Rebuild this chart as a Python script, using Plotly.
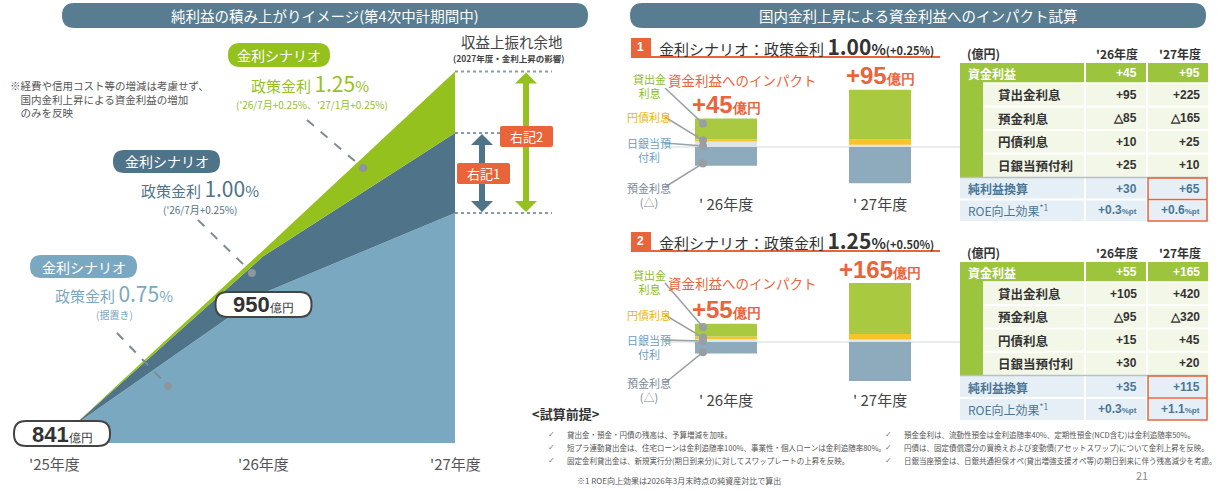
import plotly.graph_objects as go

W, H = 1225, 491
JP = "Noto Sans CJK JP"
NUM = "Liberation Sans"

# ---------------- data ----------------
years = ["'25年度", "'26年度", "'27年度"]
profit_075 = [841, 950, 1015]   # 政策金利0.75%（据置き）
profit_100 = [841, 980, 1080]   # 政策金利1.00%
profit_125 = [841, 985, 1130]   # 政策金利1.25%

bar_years = ["' 26年度", "' 27年度"]
s1_loan = [95, 225]
s1_dep = [-85, -165]
s1_jgb = [10, 25]
s1_boj = [25, 10]
s1_total = [45, 95]
s1_net = [30, 65]
s1_roe = [0.3, 0.6]

s2_loan = [105, 420]
s2_dep = [-95, -320]
s2_jgb = [15, 45]
s2_boj = [30, 20]
s2_total = [55, 165]
s2_net = [35, 115]
s2_roe = [0.3, 1.1]

row_names = ["貸出金利息", "預金利息", "円債利息", "日銀当預付利"]
table_years = ["'26年度", "'27年度"]

bullets_left = [
    "貸出金・預金・円債の残高は、予算増減を加味。",
    "短プラ連動貸出金は、住宅ローンは金利追随率100%、事業性・個人ローンは金利追随率80%。",
    "固定金利貸出金は、新規実行分(期日到来分)に対してスワップレートの上昇を反映。",
]
bullets_right = [
    "預金金利は、流動性預金は金利追随率40%、定期性預金(NCD含む)は金利追随率50%。",
    "円債は、固定債償還分の買換えおよび変動債(アセットスワップ)について金利上昇を反映。",
    "日銀当座預金は、日銀共通担保オペ(貸出増強支援オペ等)の期日到来に伴う残高減少を考慮。",
]

# ---------------- styles ----------------
C_GREEN = "#95c11f"
C_DARK = "#4f7389"
C_LIGHT = "#7ba8c1"
C_ORANGE = "#e9643b"
C_BANNER = "#587c90"
B_LOAN, B_JGB, B_BOJ, B_DEP = "#a8c940", "#f6c428", "#dfe4e8", "#8eaabd"
T_GREEN, T_BODY, T_NETBG = "#9cc53d", "#f3f7e7", "#e6eff5"

def X(x):
    return x / W

def Y(y):
    return 1 - y / H

def P(x, y):
    return f"{X(x):.5f},{Y(y):.5f}"

shapes, ann = [], []

def rrect(x0, y0, x1, y1, r, fill, lc=None, lw=0, layer="above"):
    path = (f"M{P(x0+r,y0)} L{P(x1-r,y0)} Q{P(x1,y0)} {P(x1,y0+r)} L{P(x1,y1-r)} "
            f"Q{P(x1,y1)} {P(x1-r,y1)} L{P(x0+r,y1)} Q{P(x0,y1)} {P(x0,y1-r)} "
            f"L{P(x0,y0+r)} Q{P(x0,y0)} {P(x0+r,y0)} Z")
    shapes.append(dict(type="path", path=path, xref="paper", yref="paper", fillcolor=fill,
                       line=dict(color=lc or fill, width=lw), layer=layer))

def rect(x0, y0, x1, y1, fill, lc=None, lw=0, layer="above"):
    shapes.append(dict(type="rect", xref="paper", yref="paper", x0=X(x0), x1=X(x1), y0=Y(y0), y1=Y(y1),
                       fillcolor=fill, line=dict(color=lc or fill, width=lw), layer=layer))

def line(x0, y0, x1, y1, color, w=1, dash="solid", layer="above"):
    shapes.append(dict(type="line", xref="paper", yref="paper", x0=X(x0), x1=X(x1), y0=Y(y0), y1=Y(y1),
                       line=dict(color=color, width=w, dash=dash), layer=layer))

def dot(x, y, r, color):
    shapes.append(dict(type="circle", xref="paper", yref="paper", x0=X(x-r), x1=X(x+r), y0=Y(y+r), y1=Y(y-r),
                       fillcolor=color, line=dict(color=color, width=0), layer="above"))

def txt(x, y, text, size, color, xa="center", ya="middle", family=JP, align="center", **kw):
    d = dict(x=X(x), y=Y(y), xref="paper", yref="paper", text=text, showarrow=False,
             xanchor=xa, yanchor=ya, align=align, font=dict(family=family, size=size, color=color))
    d.update(kw)
    ann.append(d)

def darrow(cx, ytop, ybot, color, sw=6, hw=22, hh=11):
    pts = [(cx, ytop), (cx+hw/2, ytop+hh), (cx+sw/2, ytop+hh), (cx+sw/2, ybot-hh), (cx+hw/2, ybot-hh),
           (cx, ybot), (cx-hw/2, ybot-hh), (cx-sw/2, ybot-hh), (cx-sw/2, ytop+hh), (cx-hw/2, ytop+hh)]
    path = "M" + " L".join(P(a, b) for a, b in pts) + " Z"
    shapes.append(dict(type="path", path=path, xref="paper", yref="paper", fillcolor=color,
                       line=dict(color=color, width=0), layer="above"))

fig = go.Figure()

# ---------------- left: stacked area ----------------
LX0, LX1 = 72, 455            # pixel positions of '25 and '27
LY_BASE_PX, LY_BASE_V, LY_K = 443, 828, 1.23
LY_TOP_PX = 40

def ly(v):
    return LY_BASE_PX - (v - LY_BASE_V) * LY_K

xi = list(range(len(years)))
fig.add_trace(go.Scatter(x=xi, y=profit_075, mode="lines", line=dict(width=0, color=C_LIGHT),
                         fill="tozeroy", fillcolor=C_LIGHT, hoverinfo="skip", showlegend=False))
fig.add_trace(go.Scatter(x=xi, y=profit_100, mode="lines", line=dict(width=0, color=C_DARK),
                         fill="tonexty", fillcolor=C_DARK, hoverinfo="skip", showlegend=False))
fig.add_trace(go.Scatter(x=xi, y=profit_125, mode="lines", line=dict(width=0, color=C_GREEN),
                         fill="tonexty", fillcolor=C_GREEN, hoverinfo="skip", showlegend=False))

# x labels of left chart
for i, lab in enumerate(years):
    ann.append(dict(x=i, y=Y(463), xref="x", yref="paper", text=lab, showarrow=False,
                    xanchor="center", yanchor="middle",
                    xshift=-18 if i == 0 else 0, font=dict(family=JP, size=15, color="#555")))

# value boxes (841, 950)
for i in range(2):
    lab = str(profit_075[i])
    cx = LX0 + i * (LX1 - LX0) / 2
    if i == 0:
        bx0, by0 = 14, 421
    else:
        bx0, by0 = cx - 48, ly(profit_075[i]) - 1
    rrect(bx0, by0, bx0 + 96, by0 + 25, 12, "white", "#444", 2)
    txt(bx0 + 48, by0 + 13, f"<b>{lab}</b><span style='font-size:12px'>億円</span>", 22, "#333", family=NUM)

# dotted guide lines & arrows
for v in (profit_125[2], profit_100[2], profit_075[2]):
    line(LX1, ly(v), 552, ly(v), "#8a9ba6", 2, "dot")
darrow(482, ly(profit_100[2]) + 1, ly(profit_075[2]) - 1, C_DARK)
darrow(526, ly(profit_125[2]) + 1, ly(profit_075[2]) - 1, C_GREEN)
rrect(457, 163, 510, 184, 2, C_ORANGE)
txt(483.5, 173.5, "右記1", 13, "white")
rrect(500, 126, 553, 147, 2, C_ORANGE)
txt(526.5, 136.5, "右記2", 13, "white")
txt(512, 41, "収益上振れ余地", 14.5, "#444")
txt(509, 58, "<b>(2027年度・金利上昇の影響)</b>", 8.5, "#444")

# scenario labels
rrect(228, 43, 330, 67, 12, C_GREEN)
txt(279, 55, "金利シナリオ", 14, "white")
txt(310, 83, "政策金利 <span style='font-size:21px'>1.25</span>%", 15, C_GREEN)
txt(312, 104, "('26/7月+0.25%、'27/1月+0.25%)", 10, C_GREEN)
line(307, 120, 363, 168, "#7f8b92", 2, "dash")
dot(363, 168, 4, "#8d969c")

rrect(113, 150, 220, 173, 11.5, C_DARK)
txt(166.5, 161.5, "金利シナリオ", 14, "white")
txt(200, 188, "政策金利 <span style='font-size:21px'>1.00</span>%", 15, C_DARK)
txt(200, 209, "('26/7月+0.25%)", 10, C_DARK)
line(198, 220, 252, 273, "#7f8b92", 2, "dash")
dot(252, 273, 4, "#8d969c")

rrect(30, 255, 137, 278, 11.5, C_LIGHT)
txt(83.5, 266.5, "金利シナリオ", 14, "white")
txt(114, 293, "政策金利 <span style='font-size:21px'>0.75</span>%", 15, C_LIGHT)
txt(114, 314, "(据置き)", 10, C_LIGHT)
line(117, 333, 168, 386, "#7f8b92", 2, "dash")
dot(168, 386, 4, "#8d969c")

txt(8, 99, "※経費や信用コスト等の増減は考慮せず、<br>　国内金利上昇による資金利益の増加<br>　のみを反映",
    10.5, "#555", xa="left", align="left")

# ---------------- banners ----------------
rrect(62, 3, 588, 28, 12.5, C_BANNER, layer="below")
txt(325, 15.5, "純利益の積み上がりイメージ(第4次中計期間中)", 14.5, "white")
rrect(630, 3, 1206, 28, 12.5, C_BANNER, layer="below")
txt(918, 15.5, "国内金利上昇による資金利益へのインパクト試算", 14.5, "white")

# ---------------- right: bar charts ----------------
BX0, BX1 = 726, 880
bxs = (BX1 - BX0)
xr = [(650 - BX0) / bxs, (960 - BX0) / bxs]
bar_w = 62 / bxs

charts = [
    dict(ax="2", zero=147, k=0.22, top=60, bot=205, loan=s1_loan, dep=s1_dep, jgb=s1_jgb, boj=s1_boj,
         total=s1_total, hdr=40, num="1", rate="1.00", add="(+0.25%)"),
    dict(ax="3", zero=342, k=0.1216, top=258, bot=405, loan=s2_loan, dep=s2_dep, jgb=s2_jgb, boj=s2_boj,
         total=s2_total, hdr=234, num="2", rate="1.25", add="(+0.50%)"),
]
layout_axes = {}
for c in charts:
    a = c["ax"]
    for vals, col in ((c["boj"], B_BOJ), (c["jgb"], B_JGB), (c["loan"], B_LOAN), (c["dep"], B_DEP)):
        fig.add_trace(go.Bar(x=[0, 1], y=vals, width=bar_w, marker=dict(color=col, line=dict(width=0)),
                             xaxis="x" + a, yaxis="y" + a, hoverinfo="skip", showlegend=False))
    layout_axes["xaxis" + a] = dict(domain=[X(650), X(960)], range=xr, visible=False, anchor="y" + a)
    layout_axes["yaxis" + a] = dict(domain=[Y(c["bot"]), Y(c["top"])],
                                    range=[-(c["bot"] - c["zero"]) / c["k"], (c["zero"] - c["top"]) / c["k"]],
                                    visible=False, anchor="x" + a)
    z = c["zero"]
    shapes.append(dict(type="line", xref="paper", yref="y" + a, x0=X(663), x1=X(962), y0=0, y1=0,
                       line=dict(color="#d3d9dd", width=1.2), layer="below"))
    # header
    h = c["hdr"]
    rect(631, h - 2, 651, h + 16, C_ORANGE)
    txt(641, h + 7, "<b>" + c["num"] + "</b>", 12, "white", family=NUM)
    line(631, h + 17, 940, h + 17, C_ORANGE, 2)
    txt(657, h + 6, f"金利シナリオ：政策金利 <b><span style='font-size:21px'>{c['rate']}</span>%</b>"
        f"<b><span style='font-size:11px'>{c['add']}</span></b>", 15, "#333", xa="left")
    # impact titles
    ttl_y = z - 67 if a == "2" else z - 59
    txt(743, ttl_y, "資金利益へのインパクト", 13.5, C_ORANGE)
    for i in range(2):
        top_px = z - (c["boj"][i] + c["jgb"][i] + c["loan"][i]) * c["k"]
        ann.append(dict(x=i, y=Y(top_px - 14), xref="x" + a, yref="paper", showarrow=False,
                        xanchor="center", yanchor="middle",
                        text=f"<b>+{c['total'][i]}<span style='font-size:14px'>億円</span></b>",
                        font=dict(family=NUM, size=24, color=C_ORANGE)))
        ann.append(dict(x=i, y=Y(z + 57), xref="x" + a, yref="paper", showarrow=False,
                        xanchor="center", yanchor="middle",
                        text=bar_years[i], font=dict(family=JP, size=15, color="#444")))
    # side labels with leaders
    k = c["k"]
    b0 = c["boj"][0]; j0 = c["jgb"][0]; l0 = c["loan"][0]; d0 = c["dep"][0]
    dots_y = [z - (b0 + j0 + l0 * 0.75) * k, z - (b0 + j0) * k + 1, z - 1, z + (-d0) * k * 0.88]
    if a == "2":
        lab_y = [86, 117, 150, 195]; start_y = [88, 117, 143, 187]
    else:
        lab_y = [282, 315, 347, 390]; start_y = [283, 315, 340, 383]
    labs = [("貸出金<br>利息", "#8dbb2a"), ("円債利息", "#f0b400"), ("日銀当預<br>付利", "#6d9ec0"),
            ("預金利息<br>(△)", "#7b8a97")]
    for (t, col), ly_, sy, dy in zip(labs, lab_y, start_y, dots_y):
        txt(649, ly_, t, 11, col)
        line(665, sy, 703, dy, "#9aa0a4", 1.5)
        dot(703, dy, 4, "#9a9ea2")

# ---------------- tables ----------------
def fmt(v):
    return f"+{v}" if v >= 0 else f"△{-v}"

def table(hy, gt, rh, nh, total, body, net, roe):
    xl, xs, c1, c2, xr_ = 960, 983, 1085, 1147, 1208
    txt(965, hy, "<b>(億円)</b>", 12, "#333", xa="left")
    txt(1117, hy, "<b>" + table_years[0] + "</b>", 12, "#333")
    txt(1180, hy, "<b>" + table_years[1] + "</b>", 12, "#333")
    gh = 20
    rect(xl, gt, xr_, gt + gh, T_GREEN)
    bb = gt + gh + rh * len(body)
    rect(xl, gt + gh, xs, bb, T_GREEN)
    rect(xs, gt + gh, xr_, bb, T_BODY)
    for i in range(1, len(body)):
        line(xs, gt + gh + rh * i, xr_, gt + gh + rh * i, "white", 2)
    line(xs, gt + gh, xr_, gt + gh, "white", 1.5)
    nt = bb + 1
    rect(xl, nt, xr_, nt + 2 * nh, T_NETBG)
    line(xl, nt + nh, xr_, nt + nh, "white", 2)
    for cx in (c1, c2):
        line(cx, gt, cx, nt + 2 * nh, "white", 2)
    line(xl, bb + 0.5, xr_, bb + 0.5, "#b8c0c6", 1.5)
    txt(966, gt + gh / 2, "<b>資金利益</b>", 12, "white", xa="left")
    txt(1139, gt + gh / 2, f"<b>{fmt(total[0])}</b>", 12, "white", xa="right", family=NUM)
    txt(1202, gt + gh / 2, f"<b>{fmt(total[1])}</b>", 12, "white", xa="right", family=NUM)
    for i, (name, vals) in enumerate(zip(row_names, body)):
        yc = gt + gh + rh * (i + 0.5)
        txt(996, yc, f"<b>{name}</b>", 12.5, "#333", xa="left")
        txt(1139, yc, f"<b>{fmt(vals[0])}</b>", 12, "#333", xa="right", family=NUM)
        txt(1202, yc, f"<b>{fmt(vals[1])}</b>", 12, "#333", xa="right", family=NUM)
    blue = "#4a7797"
    y1 = nt + nh / 2; y2 = nt + nh * 1.5
    txt(966, y1, "<b>純利益換算</b>", 12, blue, xa="left")
    txt(966, y2, "ROE向上効果<sup>*1</sup>", 12, blue, xa="left")
    for j, xx in enumerate((1139, 1202)):
        txt(xx, y1, f"<b>{fmt(net[j])}</b>", 12, blue, xa="right", family=NUM)
        txt(xx, y2, f"<b>+{roe[j]:.1f}<span style='font-size:8px'>%pt</span></b>", 12, blue, xa="right",
            family=NUM)
    shapes.append(dict(type="rect", xref="paper", yref="paper", x0=X(c2 + 1), x1=X(xr_ - 1), y0=Y(nt),
                       y1=Y(nt + 2 * nh), line=dict(color=C_ORANGE, width=1.5), layer="above"))
    line(c2 + 1, nt + nh, xr_ - 1, nt + nh, C_ORANGE, 1.5)

table(54, 63, 23.5, 21.5, s1_total, [s1_loan, s1_dep, s1_jgb, s1_boj], s1_net, s1_roe)
table(252, 262, 23.25, 22, s2_total, [s2_loan, s2_dep, s2_jgb, s2_boj], s2_net, s2_roe)

# ---------------- footnotes ----------------
txt(530, 413, "<b><試算前提></b>", 13, "#333", xa="left")
for i, (bl, br) in enumerate(zip(bullets_left, bullets_right)):
    yy = 434 + 13 * i
    txt(551, yy, "✓", 8, "#777", family="DejaVu Sans")
    txt(565, yy, bl, 7.5, "#555", xa="left")
    txt(888, yy, "✓", 8, "#777", family="DejaVu Sans")
    txt(902, yy, br, 7.5, "#555", xa="left")
txt(575, 480, "※1 ROE向上効果は2026年3月末時点の純資産対比で算出", 8, "#555", xa="left")
txt(1142, 475, "21", 11, "#888")

fig.update_layout(
    width=W, height=H, margin=dict(l=0, r=0, t=0, b=0),
    paper_bgcolor="white", plot_bgcolor="rgba(0,0,0,0)",
    barmode="relative", showlegend=False,
    xaxis=dict(domain=[X(LX0), X(LX1)], range=[0, len(years) - 1], visible=False, fixedrange=True),
    yaxis=dict(domain=[Y(LY_BASE_PX), Y(LY_TOP_PX)],
               range=[LY_BASE_V, LY_BASE_V + (LY_BASE_PX - LY_TOP_PX) / LY_K], visible=False),
    shapes=shapes, annotations=ann,
    **layout_axes,
)
fig.write_html("out.html")
